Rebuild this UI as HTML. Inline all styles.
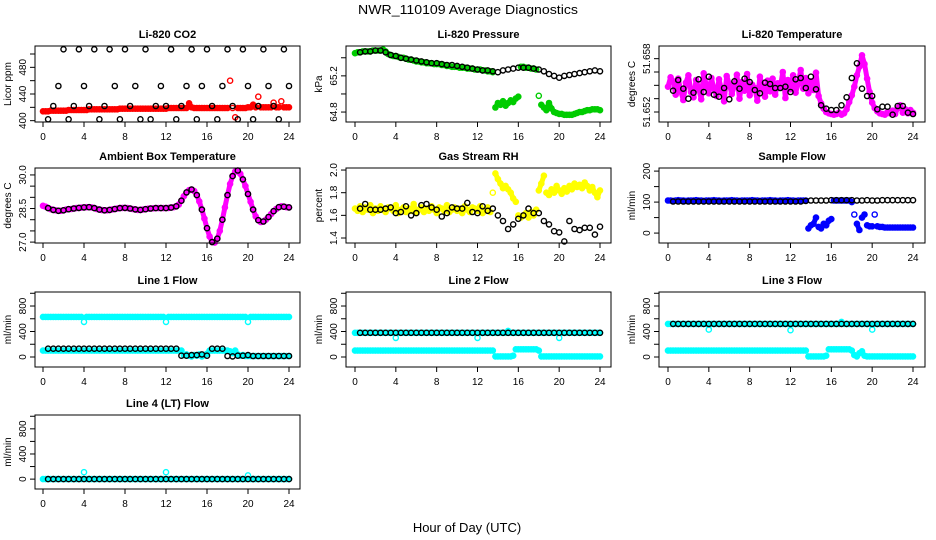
<!DOCTYPE html>
<html><head><meta charset="utf-8"><style>
html,body{margin:0;padding:0;background:#fff;}
svg{display:block;font-family:"Liberation Sans",sans-serif;}
</style></head>
<body>
<svg id="chart" width="936" height="540" viewBox="0 0 936 540" xmlns="http://www.w3.org/2000/svg">
<rect x="0" y="0" width="936" height="540" fill="#fff"/>
<text x="468" y="14" text-anchor="middle" font-size="13" textLength="220" lengthAdjust="spacingAndGlyphs">NWR_110109  Average Diagnostics</text>
<text x="467" y="532" text-anchor="middle" font-size="13">Hour of Day (UTC)</text>
</svg>
<script>
// ---- data (color series: 97 values at 15-min steps 0..24h; black series: 48 values at 0.5..24h) ----
const xTicks = [0,4,8,12,16,20,24];

const co2Red = [414,414,414,415,415,415,415,415,415,415,416,416,416,416,416,416,416,416,417,417,
417,417,417,417,417,417,417,417,417,417,418,418,418,418,418,418,418,418,418,418,
418,418,418,418,418,418,418,418,418,419,419,419,419,419,419,419,419,426,420,419,
419,419,419,419,419,419,419,419,419,419,419,419,419,460,419,405,419,419,419,419,
420,420,424,420,436,420,420,420,420,420,427,420,420,429,420,420,420];
const co2Black = [402,422,452,507,402,422,507,452,422,507,402,422,507,452,402,507,422,452,402,507,402,422,452,422,507,402,422,452,507,402,452,507,422,402,452,507,422,402,507,452,402,422,507,452,422,402,507,452];
const co2Ticks = [400,420,440,460,480,500];
const co2Labels = ["400","","440","","480",""];

const presGreen = [65.45,65.46,65.46,65.47,65.47,65.47,65.47,65.48,65.48,65.48,65.48,65.49,65.47,
65.44,65.43,65.42,65.42,65.41,65.40,65.40,65.39,65.38,65.38,65.37,65.36,65.36,65.35,65.35,65.34,65.34,65.34,65.33,65.33,65.33,65.32,65.32,65.31,65.31,65.30,65.30,65.30,65.29,65.29,65.29,65.28,65.28,65.28,65.27,65.27,65.27,65.26,65.26,65.25,65.25,65.24,
64.85,64.90,64.88,64.92,64.87,64.90,64.93,64.91,64.95,64.97,
65.30,65.30,65.29,65.29,65.28,65.28,65.27,64.98,
64.88,64.85,64.82,64.90,64.84,64.80,64.79,64.78,64.78,64.77,64.77,64.77,64.77,64.78,64.79,64.80,64.80,64.81,64.82,64.82,64.83,64.83,64.83,64.82];
const presBlack = [65.46,65.47,65.47,65.48,65.48,65.46,65.43,65.42,65.40,65.39,65.38,65.37,65.36,65.35,65.34,65.34,65.33,65.32,65.32,65.31,65.30,65.29,65.28,65.27,65.26,65.26,65.25,65.24,65.26,65.27,65.28,65.29,65.29,65.29,65.28,65.27,65.25,65.22,65.20,65.18,65.20,65.21,65.22,65.23,65.24,65.25,65.26,65.25];
const presTicks = [64.8,65.0,65.2,65.4];
const presLabels = ["64.8","","65.2",""];

// temperature values in thousandths of a degree above 51.6 C
const tempMag = [53.8,55.2,54.6,52.6,55.0,53.1,51.8,54.4,55.5,53.0,52.2,54.8,53.6,51.9,55.8,54.0,52.8,55.1,53.5,52.4,
54.9,53.3,51.6,55.4,54.2,52.7,53.9,55.6,52.0,54.5,53.2,55.7,52.5,54.1,53.6,51.7,55.3,53.9,52.3,54.7,
53.1,55.0,52.6,54.3,53.7,56.0,52.1,54.8,53.4,55.5,52.9,54.2,56.3,53.5,55.1,52.8,54.6,53.3,55.9,52.4,
51.3,50.5,50.0,49.8,49.7,49.6,49.7,49.9,49.6,49.8,50.4,51.5,52.5,53.8,55.5,56.8,58.5,57.2,55.0,53.0,
51.4,50.6,50.1,49.8,49.7,49.6,50.0,49.8,50.2,49.7,50.6,51.0,49.9,50.4,49.8,50.3,49.9];
const tempBlack = [53.2,54.8,53.5,52.0,52.9,54.9,53.0,55.3,52.6,52.3,53.6,51.9,54.6,53.5,55.0,54.5,53.3,52.8,54.4,54.2,53.6,53.6,53.8,53.0,54.9,55.1,53.6,55.3,53.4,51.0,50.5,50.3,50.3,51.0,52.2,55.1,57.3,53.5,52.4,52.4,50.4,50.8,50.8,49.6,50.9,50.9,49.9,49.7];
const tempTicks = [50,52,54,56,58];
const tempLabels = ["51.652","","","","51.658"];

const ambMag = [28.62,28.58,28.52,28.47,28.44,28.42,28.40,28.40,28.42,28.45,28.47,28.48,28.50,28.52,28.53,28.54,28.55,28.56,28.56,28.55,
28.52,28.48,28.45,28.43,28.42,28.42,28.44,28.46,28.48,28.50,28.52,28.53,28.53,28.52,28.50,28.48,28.46,28.44,28.44,28.45,
28.47,28.49,28.50,28.51,28.52,28.52,28.52,28.52,28.52,28.53,28.54,28.56,28.60,28.68,28.85,29.05,29.22,29.32,29.35,29.28,
29.10,28.82,28.45,28.05,27.62,27.25,27.00,26.98,27.15,27.50,28.00,28.55,29.10,29.60,29.95,30.15,30.20,30.05,29.80,29.50,
29.15,28.80,28.45,28.15,27.98,27.90,27.92,28.00,28.12,28.25,28.38,28.48,28.56,28.60,28.58,28.56,28.55];
const ambBlack = [28.52,28.44,28.40,28.42,28.47,28.50,28.53,28.55,28.56,28.52,28.45,28.42,28.44,28.48,28.52,28.53,28.50,28.46,28.44,28.47,28.50,28.52,28.52,28.52,28.54,28.60,28.85,29.22,29.35,29.10,28.45,27.62,27.00,27.15,28.00,29.10,29.95,30.20,29.80,29.15,28.45,27.98,27.92,28.12,28.38,28.56,28.58,28.55];
const ambTicks = [27.0,27.5,28.0,28.5,29.0,29.5,30.0];
const ambLabels = ["27.0","","","28.5","","","30.0"];

const rhYellow = [1.66,1.64,1.68,1.63,1.67,1.65,1.69,1.62,1.66,1.64,1.68,1.65,1.63,1.67,1.66,1.64,1.69,1.62,1.65,1.67,
1.63,1.66,1.64,1.70,1.62,1.65,1.67,1.63,1.66,1.64,1.68,1.65,1.62,1.67,1.66,1.64,1.69,1.63,1.65,1.67,
1.64,1.66,1.62,1.68,1.65,1.63,1.67,1.66,1.64,1.68,1.62,1.65,1.67,1.63,1.80,
1.97,1.92,1.88,1.84,1.86,1.83,1.80,1.75,1.72,1.60,
1.58,1.60,1.62,1.58,1.63,1.60,1.65,1.82,
1.88,1.95,1.80,1.78,1.83,1.80,1.86,1.82,1.79,1.84,1.81,1.86,1.83,1.88,1.85,1.87,1.84,1.89,1.86,1.82,1.85,1.80,1.76,1.82];
const rhBlack = [1.66,1.70,1.65,1.65,1.65,1.66,1.67,1.62,1.63,1.68,1.60,1.62,1.69,1.70,1.67,1.65,1.59,1.62,1.67,1.66,1.66,1.71,1.63,1.62,1.68,1.64,1.66,
1.60,1.55,1.48,1.52,1.57,1.60,1.66,1.62,1.62,1.55,1.52,1.46,1.45,1.37,1.55,1.48,1.47,1.49,1.49,1.43,1.50];
const rhTicks = [1.4,1.6,1.8,2.0];
const rhLabels = ["1.4","1.6","1.8","2.0"];

const sampBlue = [105,105,104,105,106,105,105,104,105,105,105,106,105,105,104,105,105,105,106,105,
105,104,105,105,105,106,105,105,104,105,105,105,105,106,105,105,104,105,105,105,
106,105,105,104,105,105,105,106,105,105,104,105,105,105,105,
15,25,30,50,20,15,30,25,40,45,
105,105,105,105,105,105,105,100,
60,30,10,50,60,25,22,22,60,22,20,20,18,18,18,18,18,18,18,18,18,18,18,18];
const sampBlack = [102,102,102,102,102,102,102,102,102,102,102,102,102,102,102,102,102,102,102,102,102,102,102,102,102,102,104,105,105,105,105,106,106,106,106,106,105,105,106,105,105,106,106,106,106,106,106,106];
const sampTicks = [0,50,100,150,200];
const sampLabels = ["0","","100","","200"];

const flowTicks = [0,200,400,600,800,1000];
const flowLabels = ["0","","400","","800",""];

const l1CyanTop = [630,630,630,630,630,630,630,630,630,630,630,630,630,630,630,630,550,630,630,630,
630,630,630,630,630,630,630,630,630,630,630,630,630,630,630,630,630,630,630,630,
630,630,630,630,630,630,630,630,550,630,630,630,630,630,630,630,630,630,630,630,
630,630,630,630,630,630,630,630,630,630,630,630,630,630,630,630,630,630,630,630,
550,630,630,630,630,630,630,630,630,630,630,630,630,630,630,630,630];
const l1CyanLow = [100,100,100,100,100,100,100,100,100,100,100,100,100,100,100,100,100,100,100,100,
100,100,100,100,100,100,100,100,100,100,100,100,100,100,100,100,100,100,100,100,
100,100,100,100,100,100,100,100,100,100,100,100,100,100,100,
30,40,20,10,30,20,40,10,30,50,
100,100,100,100,100,100,100,100,
90,60,100,40,20,30,15,15,15,15,15,15,15,15,15,15,15,15,15,15,15,15,15,15];
const l1Black = [130,130,130,130,130,130,130,130,130,130,130,130,130,130,130,130,130,130,130,130,130,130,130,130,130,130,
20,20,30,30,40,20,130,130,130,15,10,20,20,30,15,15,15,15,15,15,15,15];

const l2CyanTop = [380,380,380,380,380,380,380,380,380,380,380,380,380,380,380,380,300,380,380,380,
380,380,380,380,380,380,380,380,380,380,380,380,380,380,380,380,380,380,380,380,
380,380,380,380,380,380,380,380,300,380,380,380,380,380,380,380,380,380,380,380,
410,380,380,380,380,380,380,380,380,380,380,380,380,380,380,380,380,380,380,380,
300,380,380,380,380,380,380,380,380,380,380,380,380,380,380,380,380];
const l2CyanLow = [100,100,100,100,100,100,100,100,100,100,100,100,100,100,100,100,100,100,100,100,
100,100,100,100,100,100,100,100,100,100,100,100,100,100,100,100,100,100,100,100,
100,100,100,100,100,100,100,100,100,100,100,100,100,100,100,
10,10,10,10,10,10,10,20,120,120,
120,120,120,120,120,120,120,100,
10,10,10,10,10,10,10,10,10,10,10,10,10,10,10,10,10,10,10,10,10,10,10,10];
const l2Black = [380,380,380,380,380,380,380,380,380,380,380,380,380,380,380,380,380,380,380,380,380,380,380,380,380,380,380,380,380,380,380,380,380,380,380,380,380,380,380,380,380,380,380,380,380,380,380,380];

const l3CyanTop = [520,520,520,520,520,520,520,520,520,520,520,520,520,520,520,520,430,520,520,520,
520,520,520,520,520,520,520,520,520,520,520,520,520,520,520,520,520,520,520,520,
520,520,520,520,520,520,520,520,420,520,520,520,520,520,520,520,520,520,520,520,
520,520,520,520,520,520,520,520,550,520,520,520,520,520,520,520,520,520,520,520,
430,520,520,520,520,520,520,520,520,520,520,520,520,520,520,520,520];
const l3CyanLow = [100,100,100,100,100,100,100,100,100,100,100,100,100,100,100,100,100,100,100,100,
100,100,100,100,100,100,100,100,100,100,100,100,100,100,100,100,100,100,100,100,
100,100,100,100,100,100,100,100,100,100,100,100,100,100,100,
10,10,10,10,10,10,10,20,120,120,
120,120,120,120,120,120,120,100,
30,10,60,90,20,10,10,10,10,10,10,10,10,10,10,10,10,10,10,10,10,10,10,10];
const l3Black = [520,520,520,520,520,520,520,520,520,520,520,520,520,520,520,520,520,520,520,520,520,520,520,520,520,520,520,520,520,520,520,520,520,520,520,520,520,520,520,520,520,520,520,520,520,520,520,520];

const l4Cyan = [0,0,0,0,0,0,0,0,0,0,0,0,0,0,0,0,110,0,0,0,
0,0,0,0,0,0,0,0,0,0,0,0,0,0,0,0,0,0,0,0,
0,0,0,0,0,0,0,0,110,0,0,0,0,0,0,0,0,0,0,0,
0,0,0,0,0,0,0,0,0,0,0,0,0,0,0,0,0,0,0,0,
60,0,0,0,0,0,0,0,0,0,0,0,0,0,0,0,0];
const l4Black = [0,0,0,0,0,0,0,0,0,0,0,0,0,0,0,0,0,0,0,0,0,0,0,0,0,0,0,0,0,0,0,0,0,0,0,0,0,0,0,0,0,0,0,0,0,0,0,0];

// ---- layout ----
const NS = "http://www.w3.org/2000/svg";
const svg = document.getElementById("chart");
const COLS = [[35,300,43,289],[346,611,355,600],[659,925,668,913]];
const ROWS = [[46,122],[168,243],[292,367],[415,489]];

function el(tag, attrs, parent){
  const e = document.createElementNS(NS, tag);
  for (const k in attrs) e.setAttribute(k, attrs[k]);
  (parent||svg).appendChild(e);
  return e;
}

function panel(slug, title, yTitle, col, row, ymin, ymax, ticks, labels, series, bandGap){
  const [bx0,bx1,tx0,tx1] = COLS[col];
  const [by0,by1] = ROWS[row];
  const g = el("g",{});
  
  
  const xs = h => tx0 + (h/24)*(tx1-tx0);
  const ys = v => by1 - (v-ymin)/(ymax-ymin)*(by1-by0);
  series.forEach(s=>{
    const sg = el("g",{fill:"none",stroke:s.color,"stroke-width":1.4},g);
    
    
    const n = s.values.length;
    const pts = s.values.map((v,i)=>[xs(s.black ? (i+1)*0.5 : i*24/(n-1)), ys(v)]);
    if (!s.black){
      // dense band: connect neighbouring samples when close together
      let seg = [pts[0]];
      const flush = ()=>{
        if (seg.length>1){
          const pl = el("polyline",{points:seg.map(p=>p[0].toFixed(1)+","+p[1].toFixed(1)).join(" "),"stroke-width":5,"stroke-linejoin":"round","stroke-linecap":"round"},sg);
          
          
        }
      };
      for (let i=1;i<pts.length;i++){
        if (Math.abs(pts[i][1]-pts[i-1][1]) <= (bandGap||6)) seg.push(pts[i]);
        else { flush(); seg=[pts[i]]; }
      }
      flush();
    }
    pts.forEach(p=>{
      const c = el("circle",{cx:p[0].toFixed(1),cy:p[1].toFixed(1),r:2.6},sg);
      
      
    });
  });
  const box = el("rect",{x:bx0,y:by0,width:bx1-bx0,height:by1-by0,fill:"none",stroke:"#000","stroke-width":1},g);
  
  
  const t = el("text",{x:(bx0+bx1)/2,y:by0-8,"text-anchor":"middle","font-size":11,"font-weight":"bold"},g);
  t.textContent = title;
  
  
  xTicks.forEach(h=>{
    const x = xs(h);
    el("line",{x1:x,x2:x,y1:by1,y2:by1+5,stroke:"#000"},g);
    const lt = el("text",{x:x,y:by1+18,"text-anchor":"middle","font-size":10},g);
    lt.textContent = h;
    
    
  });
  ticks.forEach((v,i)=>{
    const y = ys(v);
    el("line",{x1:bx0-5,x2:bx0,y1:y,y2:y,stroke:"#000"},g);
    if (labels[i]!==""){
      const lt = el("text",{x:bx0-9,y:y,"text-anchor":"middle","font-size":10,transform:`rotate(-90 ${bx0-9} ${y})`},g);
      lt.textContent = labels[i];
      
      
    }
  });
  const yt = el("text",{x:bx0-24,y:(by0+by1)/2,"text-anchor":"middle","font-size":10,transform:`rotate(-90 ${bx0-24} ${(by0+by1)/2})`},g);
  yt.textContent = yTitle;
  
  
}

panel("co2","Li-820 CO2","Licor ppm",0,0,398,512,co2Ticks,co2Labels,
  [{name:"red",color:"#ff0000",values:co2Red},{name:"black",color:"#000",values:co2Black,black:true}],4);
panel("pressure","Li-820 Pressure","kPa",1,0,64.69,65.53,presTicks,presLabels,
  [{name:"green",color:"#00cc00",values:presGreen},{name:"black",color:"#000",values:presBlack,black:true}],8);
panel("temperature","Li-820 Temperature","degrees C",2,0,48.5,59.9,tempTicks,tempLabels,
  [{name:"magenta",color:"#ff00ff",values:tempMag},{name:"black",color:"#000",values:tempBlack,black:true}],30);
panel("ambient","Ambient Box Temperature","degrees C",0,1,26.96,30.31,ambTicks,ambLabels,
  [{name:"magenta",color:"#ff00ff",values:ambMag},{name:"black",color:"#000",values:ambBlack,black:true}],30);
panel("rh","Gas Stream RH","percent",1,1,1.356,2.018,rhTicks,rhLabels,
  [{name:"yellow",color:"#ffff00",values:rhYellow},{name:"black",color:"#000",values:rhBlack,black:true}],12);
panel("sample-flow","Sample Flow","ml/min",2,1,-32,210,sampTicks,sampLabels,
  [{name:"blue",color:"#0000ff",values:sampBlue},{name:"black",color:"#000",values:sampBlack,black:true}],8);
panel("line1","Line 1 Flow","ml/min",0,2,-157,1020,flowTicks,flowLabels,
  [{name:"cyan-top",color:"#00ffff",values:l1CyanTop},{name:"cyan-low",color:"#00ffff",values:l1CyanLow},{name:"black",color:"#000",values:l1Black,black:true}],3);
panel("line2","Line 2 Flow","ml/min",1,2,-157,1020,flowTicks,flowLabels,
  [{name:"cyan-top",color:"#00ffff",values:l2CyanTop},{name:"cyan-low",color:"#00ffff",values:l2CyanLow},{name:"black",color:"#000",values:l2Black,black:true}],3);
panel("line3","Line 3 Flow","ml/min",2,2,-157,1020,flowTicks,flowLabels,
  [{name:"cyan-top",color:"#00ffff",values:l3CyanTop},{name:"cyan-low",color:"#00ffff",values:l3CyanLow},{name:"black",color:"#000",values:l3Black,black:true}],3);
panel("line4","Line 4 (LT) Flow","ml/min",0,3,-157,1020,flowTicks,flowLabels,
  [{name:"cyan",color:"#00ffff",values:l4Cyan},{name:"black",color:"#000",values:l4Black,black:true}],3);
</script>
</body></html>
